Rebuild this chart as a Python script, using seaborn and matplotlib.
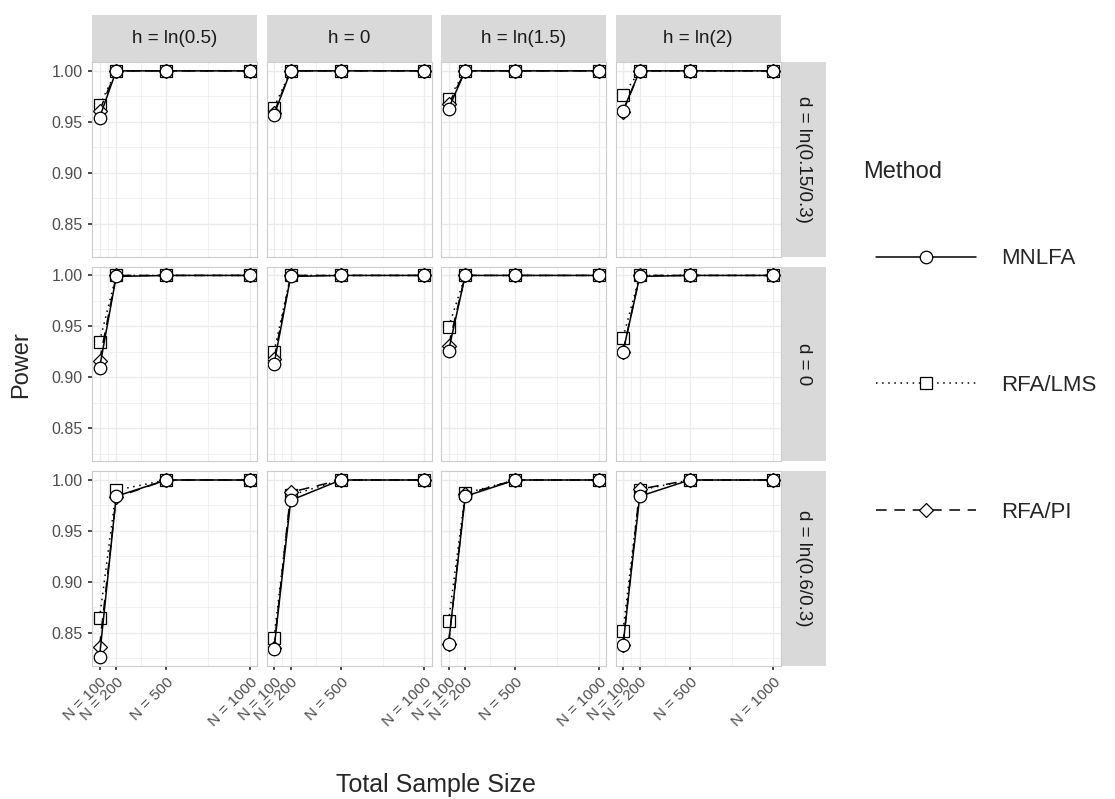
import numpy as np
import pandas as pd
import seaborn as sns
import matplotlib.pyplot as plt
from matplotlib.patches import Rectangle
from matplotlib.lines import Line2D

# Facet levels and x values
h_levels = ['h = ln(0.5)', 'h = 0', 'h = ln(1.5)', 'h = ln(2)']
d_levels = ['d = ln(0.15/0.3)', 'd = 0', 'd = ln(0.6/0.3)']
sample_sizes = [100, 200, 500, 1000]
methods = ['MNLFA', 'RFA/LMS', 'RFA/PI']

# Power values, indexed [d][h][N]
power_mnlfa = [
    [[0.954, 1.000, 1.0, 1.0], [0.957, 1.000, 1.0, 1.0], [0.963, 1.000, 1.0, 1.0], [0.961, 1.000, 1.0, 1.0]],
    [[0.909, 0.999, 1.0, 1.0], [0.913, 0.999, 1.0, 1.0], [0.926, 1.000, 1.0, 1.0], [0.925, 0.999, 1.0, 1.0]],
    [[0.826, 0.984, 1.0, 1.0], [0.834, 0.980, 1.0, 1.0], [0.839, 0.984, 1.0, 1.0], [0.838, 0.984, 1.0, 1.0]],
]
power_lms = [
    [[0.966, 1.000, 1.0, 1.0], [0.964, 1.000, 1.0, 1.0], [0.972, 1.000, 1.0, 1.0], [0.976, 1.000, 1.0, 1.0]],
    [[0.935, 1.000, 1.0, 1.0], [0.925, 1.000, 1.0, 1.0], [0.949, 1.000, 1.0, 1.0], [0.939, 1.000, 1.0, 1.0]],
    [[0.864, 0.990, 1.0, 1.0], [0.845, 0.985, 1.0, 1.0], [0.861, 0.987, 1.0, 1.0], [0.852, 0.990, 1.0, 1.0]],
]
power_pi = [
    [[0.961, 1.000, 1.0, 1.0], [0.959, 1.000, 1.0, 1.0], [0.967, 1.000, 1.0, 1.0], [0.960, 1.000, 1.0, 1.0]],
    [[0.916, 1.000, 1.0, 1.0], [0.918, 1.000, 1.0, 1.0], [0.931, 1.000, 1.0, 1.0], [0.925, 1.000, 1.0, 1.0]],
    [[0.836, 0.983, 1.0, 1.0], [0.835, 0.988, 1.0, 1.0], [0.839, 0.986, 1.0, 1.0], [0.838, 0.991, 1.0, 1.0]],
]

# Long table for the facet grid
rows = []
for m, table in zip(methods, [power_mnlfa, power_lms, power_pi]):
    for i, d in enumerate(d_levels):
        for j, h in enumerate(h_levels):
            for k, n in enumerate(sample_sizes):
                rows.append({'Method': m, 'd': d, 'h': h, 'N': n, 'Power': table[i][j][k]})
df = pd.DataFrame(rows)

# Line / marker style per method
styles = {
    'MNLFA': dict(linestyle='-', marker='o', markersize=9),
    'RFA/LMS': dict(linestyle=(0, (1, 3)), marker='s', markersize=8),
    'RFA/PI': dict(linestyle=(0, (7, 5)), marker='D', markersize=7),
}
draw_order = ['RFA/LMS', 'RFA/PI', 'MNLFA']

sns.set_theme(style='white')
plt.rcParams['font.family'] = ['Liberation Sans', 'DejaVu Sans']


def draw(data, **kws):
    ax = plt.gca()
    for m in draw_order:
        sub = data[data['Method'] == m]
        sns.lineplot(data=sub, x='N', y='Power', ax=ax, color='black',
                     linewidth=1.1, markerfacecolor='white',
                     markeredgecolor='black', markeredgewidth=0.9,
                     errorbar=None, **styles[m])


g = sns.FacetGrid(df, row='d', col='h', row_order=d_levels, col_order=h_levels,
                  sharex=True, sharey=True, despine=False)
g.map_dataframe(draw)
g.set_titles('')
g.figure.set_size_inches(11.15, 7.99)
g.figure.subplots_adjust(left=0.0825, right=0.7004, top=0.9224, bottom=0.1665,
                         wspace=0.055, hspace=0.05)

grid_col = '#EBEBEB'
for i, d in enumerate(d_levels):
    for j, h in enumerate(h_levels):
        ax = g.axes[i, j]
        ax.set_xlim(55, 1045)
        ax.set_ylim(0.8173, 1.0087)
        ax.set_xticks(sample_sizes)
        ax.set_xticks([150, 350, 750], minor=True)
        ax.set_yticks([0.85, 0.90, 0.95, 1.00])
        ax.set_yticks([0.825, 0.875, 0.925, 0.975], minor=True)
        ax.grid(True, which='major', color=grid_col, linewidth=1.0)
        ax.grid(True, which='minor', color=grid_col, linewidth=0.5)
        ax.set_axisbelow(True)
        for sp in ax.spines.values():
            sp.set_color('#CCCCCC')
            sp.set_linewidth(0.8)
        ax.set_xlabel('')
        ax.set_ylabel('')
        bottom_row = i == len(d_levels) - 1
        ax.tick_params(axis='x', which='major', length=3 if bottom_row else 0,
                       color='#333333', labelsize=11, labelcolor='#4D4D4D', bottom=bottom_row)
        ax.tick_params(axis='y', which='major', length=3 if j == 0 else 0,
                       color='#333333', labelsize=11.5, labelcolor='#4D4D4D', left=(j == 0))
        ax.tick_params(axis='both', which='minor', length=0)
        if j == 0:
            ax.set_yticklabels(['0.85', '0.90', '0.95', '1.00'])
        if bottom_row:
            ax.set_xticklabels([f'N = {n}' for n in sample_sizes], rotation=45,
                               ha='right', rotation_mode='anchor', fontsize=11)
        # top strips
        if i == 0:
            ax.add_patch(Rectangle((0, 1), 1, 0.242, transform=ax.transAxes,
                                   facecolor='#D9D9D9', edgecolor='none', clip_on=False))
            ax.text(0.5, 1.121, h, transform=ax.transAxes, ha='center', va='center',
                    fontsize=13.5, color='#1A1A1A')
        # right strips
        if j == len(h_levels) - 1:
            ax.add_patch(Rectangle((1, 0), 0.272, 1, transform=ax.transAxes,
                                   facecolor='#D9D9D9', edgecolor='none', clip_on=False))
            ax.text(1.136, 0.5, d, transform=ax.transAxes, ha='center', va='center',
                    rotation=270, fontsize=13.5, color='#1A1A1A')

fig = g.figure
fig.text(0.019, 0.544, 'Power', rotation=90, ha='center', va='center', fontsize=17)
fig.text(0.391, 0.017, 'Total Sample Size', ha='center', va='center', fontsize=18)

handles = [Line2D([], [], color='black', linewidth=1.1, markerfacecolor='white',
                  markeredgecolor='black', markeredgewidth=0.9, **styles[m])
           for m in methods]
fig.text(0.774, 0.7847, 'Method', ha='left', va='center', fontsize=17)
fig.legend(handles, methods, loc='upper left',
           bbox_to_anchor=(0.7857, 0.689), frameon=False, fontsize=16,
           handlelength=4.5, handletextpad=1.15,
           labelspacing=4.75, borderaxespad=0, borderpad=0)

fig.savefig('out.png', dpi=100)
